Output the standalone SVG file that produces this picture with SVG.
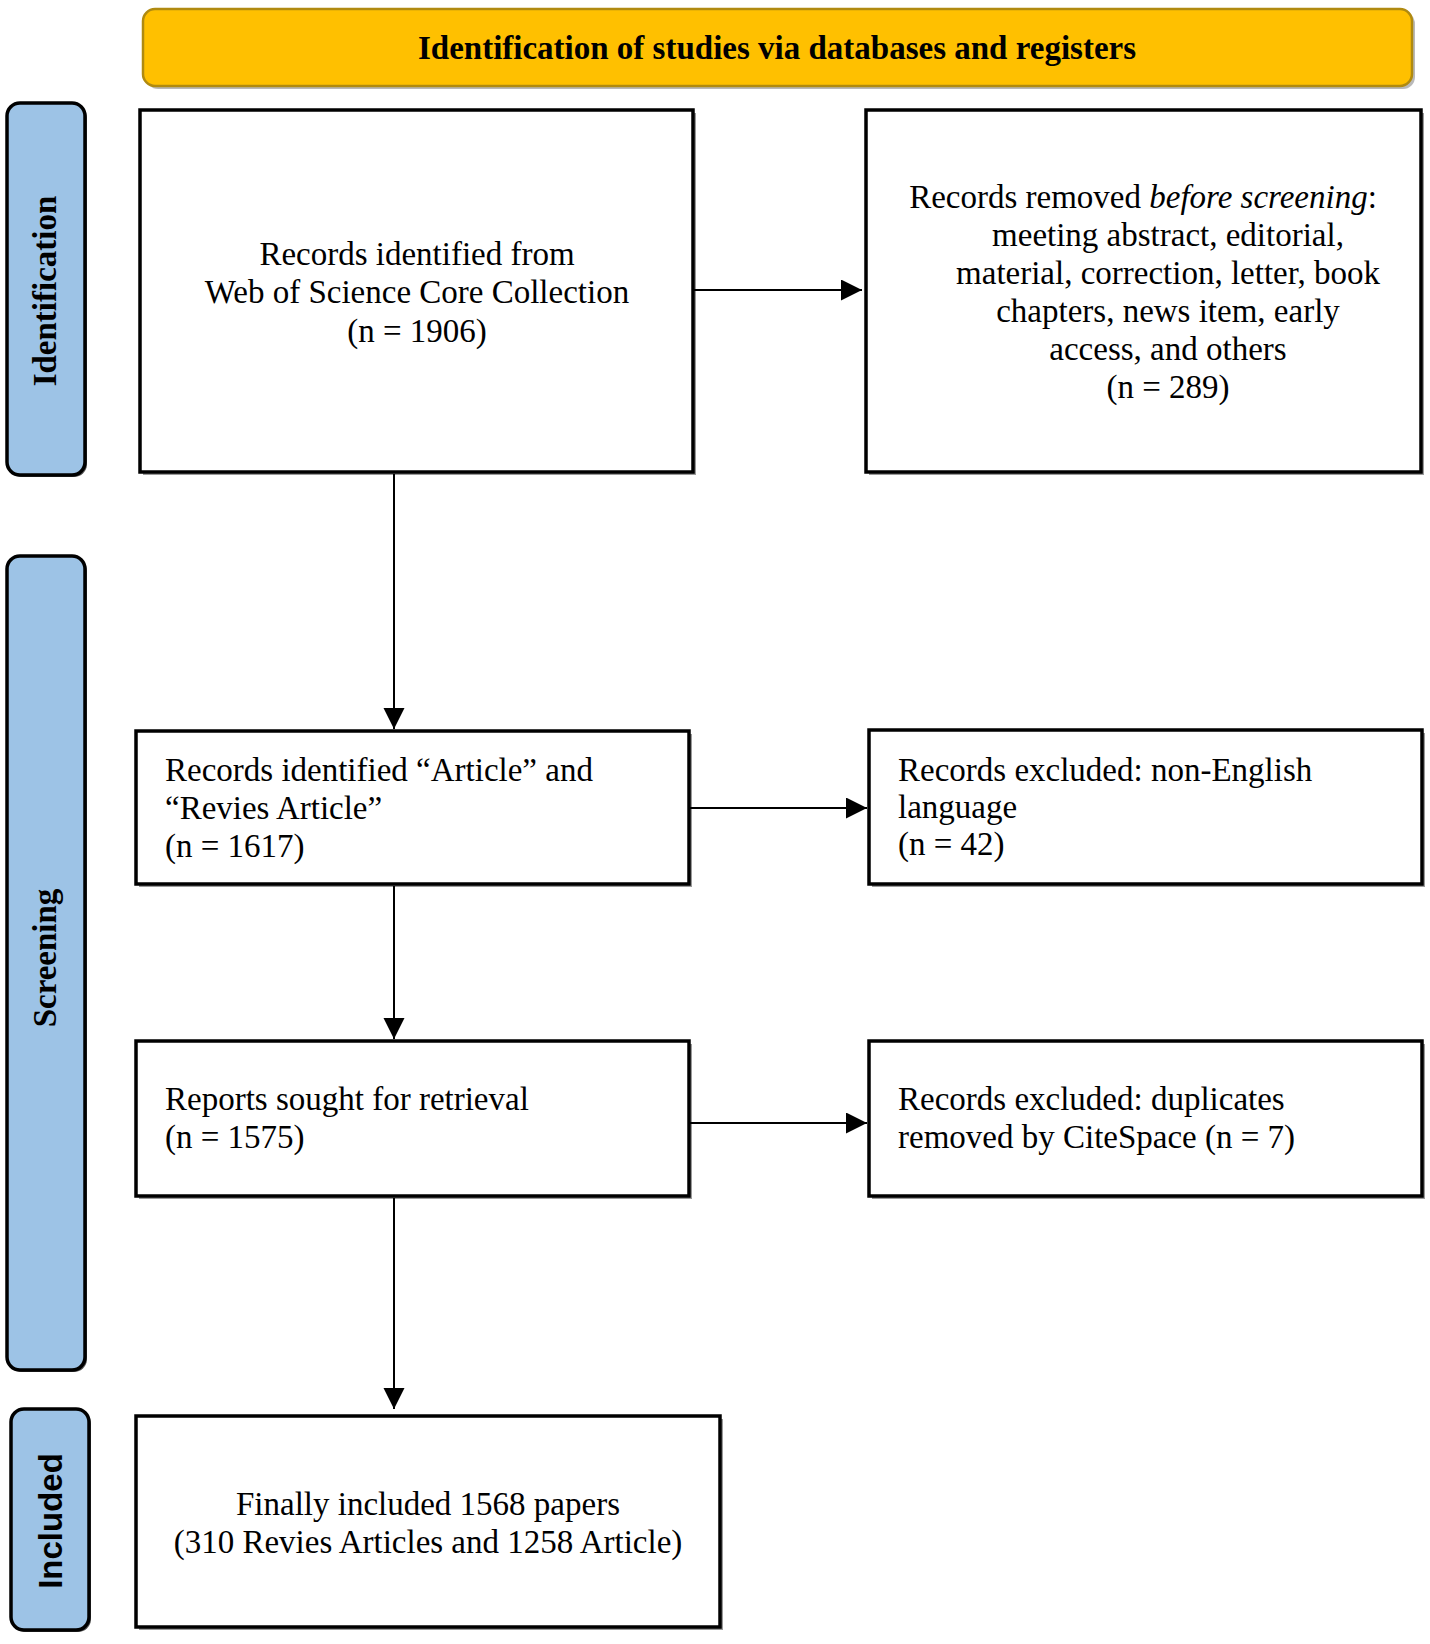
<svg xmlns="http://www.w3.org/2000/svg" width="1430" height="1644" viewBox="0 0 1430 1644">
<style>
.box{fill:#fff;stroke:#000;stroke-width:3.5}
.shadow{fill:#9a9a9a;stroke:none}
.side{fill:#9DC3E6;stroke:#000;stroke-width:3.5}
.t{font-family:"Liberation Serif","Times New Roman",serif;font-size:33px;fill:#000}
.tb{font-family:"Liberation Serif","Times New Roman",serif;font-size:33px;font-weight:bold;fill:#000}
.ts{font-family:"Liberation Sans",Arial,sans-serif;font-size:33px;font-weight:bold;fill:#000}
.c{text-anchor:middle}
.conn{stroke:#000;stroke-width:2;fill:none;marker-end:url(#ah)}
</style>
<defs>
<marker id="ah" markerUnits="userSpaceOnUse" markerWidth="22" markerHeight="22" refX="21" refY="10.5" orient="auto">
<path d="M0,0 L21,10.5 L0,21 Z" fill="#000"/>
</marker>
</defs>
<rect width="1430" height="1644" fill="#fff"/>

<g id="banner">
<rect x="146" y="12" width="1269" height="77" rx="12" fill="#8a8a8a" opacity="0.6"/>
<rect x="143" y="9" width="1269" height="77" rx="12" fill="#FFC000" stroke="#B08A10" stroke-width="2.5"/>
<text class="tb c" x="777" y="59">Identification of studies via databases and registers</text>
</g>

<g id="side-identification">
<rect x="9" y="105" width="78" height="372" rx="13" fill="#555"/>
<rect x="7" y="103" width="78" height="372" rx="13" class="side"/>
<text class="tb c" transform="translate(56,291) rotate(-90)">Identification</text>
</g>

<g id="side-screening">
<rect x="9" y="558" width="78" height="814" rx="13" fill="#555"/>
<rect x="7" y="556" width="78" height="814" rx="13" class="side"/>
<text class="tb c" transform="translate(56,958) rotate(-90)">Screening</text>
</g>

<g id="side-included">
<rect x="13" y="1411" width="78" height="221" rx="13" fill="#555"/>
<rect x="11" y="1409" width="78" height="221" rx="13" class="side"/>
<text class="ts c" transform="translate(62,1521) rotate(-90)">Included</text>
</g>

<g id="box-identified">
<rect x="143" y="113" width="553" height="362" class="shadow"/>
<rect x="140" y="110" width="553" height="362" class="box"/>
<text class="t c" x="417" y="265">Records identified from</text>
<text class="t c" x="417" y="303">Web of Science Core Collection</text>
<text class="t c" x="417" y="342">(n = 1906)</text>
</g>

<g id="box-removed">
<rect x="869" y="113" width="555" height="362" class="shadow"/>
<rect x="866" y="110" width="555" height="362" class="box"/>
<text class="t c" x="1143" y="208">Records removed <tspan font-style="italic">before screening</tspan>:</text>
<text class="t c" x="1168" y="246">meeting abstract, editorial,</text>
<text class="t c" x="1168" y="284">material, correction, letter, book</text>
<text class="t c" x="1168" y="322">chapters, news item, early</text>
<text class="t c" x="1168" y="360">access, and others</text>
<text class="t c" x="1168" y="398">(n = 289)</text>
</g>

<g id="box-articles">
<rect x="139" y="734" width="553" height="153" class="shadow"/>
<rect x="136" y="731" width="553" height="153" class="box"/>
<text class="t" x="165" y="781">Records identified “Article” and</text>
<text class="t" x="165" y="819">“Revies Article”</text>
<text class="t" x="165" y="857">(n = 1617)</text>
</g>

<g id="box-nonenglish">
<rect x="872" y="733" width="553" height="154" class="shadow"/>
<rect x="869" y="730" width="553" height="154" class="box"/>
<text class="t" x="898" y="781">Records excluded: non-English</text>
<text class="t" x="898" y="818">language</text>
<text class="t" x="898" y="855">(n = 42)</text>
</g>

<g id="box-retrieval">
<rect x="139" y="1044" width="553" height="155" class="shadow"/>
<rect x="136" y="1041" width="553" height="155" class="box"/>
<text class="t" x="165" y="1110">Reports sought for retrieval</text>
<text class="t" x="165" y="1148">(n = 1575)</text>
</g>

<g id="box-duplicates">
<rect x="872" y="1044" width="553" height="155" class="shadow"/>
<rect x="869" y="1041" width="553" height="155" class="box"/>
<text class="t" x="898" y="1110">Records excluded: duplicates</text>
<text class="t" x="898" y="1148">removed by CiteSpace (n = 7)</text>
</g>

<g id="box-included">
<rect x="139" y="1419" width="584" height="211" class="shadow"/>
<rect x="136" y="1416" width="584" height="211" class="box"/>
<text class="t c" x="428" y="1515">Finally included 1568 papers</text>
<text class="t c" x="428" y="1553">(310 Revies Articles and 1258 Article)</text>
</g>

<g id="connectors">
<line class="conn" x1="694" y1="290" x2="862" y2="290"/>
<line class="conn" x1="394" y1="474" x2="394" y2="729"/>
<line class="conn" x1="690" y1="808" x2="867" y2="808"/>
<line class="conn" x1="394" y1="886" x2="394" y2="1039"/>
<line class="conn" x1="690" y1="1123" x2="867" y2="1123"/>
<line class="conn" x1="394" y1="1198" x2="394" y2="1409"/>
</g>
</svg>
